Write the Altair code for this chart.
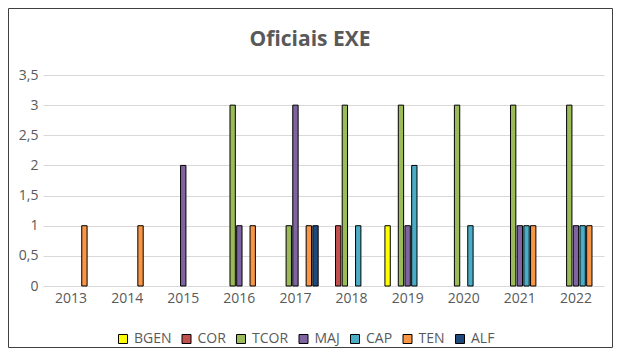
import altair as alt
import pandas as pd

years = ["2013", "2014", "2015", "2016", "2017", "2018", "2019", "2020", "2021", "2022"]
series = ["BGEN", "COR", "TCOR", "MAJ", "CAP", "TEN", "ALF"]
colors = ["#FFFF00", "#C0504D", "#9BBB59", "#8064A2", "#4BACC6", "#F79646", "#1F497D"]
title_text = "Oficiais EXE"

BGEN = [0, 0, 0, 0, 0, 0, 1, 0, 0, 0]
COR  = [0, 0, 0, 0, 0, 1, 0, 0, 0, 0]
TCOR = [0, 0, 0, 3, 1, 3, 3, 3, 3, 3]
MAJ  = [0, 0, 2, 1, 3, 0, 1, 0, 1, 1]
CAP  = [0, 0, 0, 0, 0, 1, 2, 1, 1, 1]
TEN  = [1, 1, 0, 1, 1, 0, 0, 0, 1, 1]
ALF  = [0, 0, 0, 0, 1, 0, 0, 0, 0, 0]

values = {"BGEN": BGEN, "COR": COR, "TCOR": TCOR, "MAJ": MAJ, "CAP": CAP, "TEN": TEN, "ALF": ALF}
rows = []
for s in series:
    for y, v in zip(years, values[s]):
        if v > 0:
            rows.append({"Ano": y, "Posto": s, "Valor": v})
df = pd.DataFrame(rows)

txt = "#595959"
font = "Open Sans"

bars = alt.Chart(df).mark_bar(stroke="black", strokeWidth=1).encode(
    x=alt.X("Ano:N", sort=years, scale=alt.Scale(domain=years, paddingInner=0.19, paddingOuter=0.095),
            axis=alt.Axis(title=None, labelAngle=0, ticks=False, domainColor="#D9D9D9",
                          labelPadding=5, labelFontSize=14, labelColor=txt, labelFont=font)),
    xOffset=alt.XOffset("Posto:N", sort=series, scale=alt.Scale(domain=series, paddingInner=0.2)),
    y=alt.Y("Valor:Q", scale=alt.Scale(domain=[0, 3.5]),
            axis=alt.Axis(title=None, values=[0, 0.5, 1, 1.5, 2, 2.5, 3, 3.5], format="~g",
                          labelExpr="replace(datum.label, '.', ',')",
                          domain=False, ticks=False, labelPadding=5, gridColor="#D9D9D9",
                          labelFontSize=14, labelColor=txt, labelFont=font)),
    color=alt.Color("Posto:N", sort=series, scale=alt.Scale(domain=series, range=colors),
                    legend=alt.Legend(title=None, orient="none", direction="horizontal",
                                      legendX=73, legendY=257, symbolType="square", symbolSize=81,
                                      symbolStrokeColor="black", symbolStrokeWidth=1,
                                      labelFontSize=14, labelColor=txt, labelFont=font,
                                      columnPadding=7.5, labelOffset=4, columns=7)),
)

title = alt.Chart(pd.DataFrame({"t": [title_text]})).mark_text(
    font=font, fontSize=21, fontWeight="bold", color=txt, align="center", baseline="alphabetic"
).encode(text="t:N", x=alt.value(267), y=alt.value(-29))

border = alt.Chart(pd.DataFrame({"a": [0]})).mark_rect(fill=None, stroke="#404040", strokeWidth=1).encode(
    x=alt.value(-34.5), x2=alt.value(569.5), y=alt.value(-66.5), y2=alt.value(272.5)
)

chart = alt.layer(bars, title, border).properties(
    width=561, height=211,
    autosize=alt.AutoSizeParams(type="none"),
    padding={"left": 35, "top": 67, "right": 9, "bottom": 62},
).configure_view(stroke=None)

chart.save("out.html", embed_options={"renderer": "svg", "actions": False})
